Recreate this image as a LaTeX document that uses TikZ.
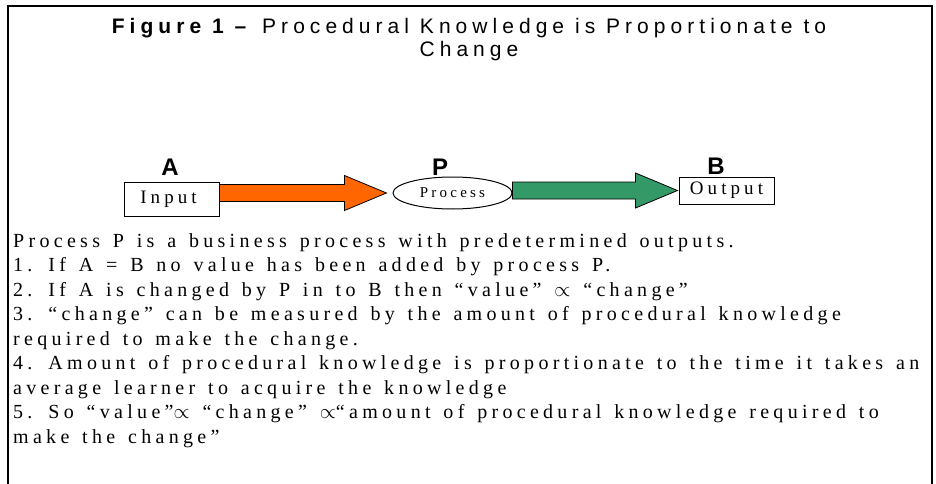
\documentclass[tikz,border=0pt]{standalone}
\usepackage{fontspec}
\usepackage{tikz}
\usetikzlibrary{shapes.geometric,calc}

\newfontfamily\bodyfont[LetterSpace=21.5,WordSpace=1.38]{Liberation Serif}
\newfontfamily\headfont[LetterSpace=24]{Liberation Sans}
\newfontfamily\labelfont{Liberation Sans}
\definecolor{arroworange}{RGB}{255,102,0}
\definecolor{arrowgreen}{RGB}{51,153,102}

% block arrow from the east side of #1 to the west side of #2
\newcommand{\fatarrow}[4]{%
  \draw[line width=0.8pt, fill=#3] let \p1=(#1.east), \p2=(#2.west) in
    (\x1,\y2+8.5pt) -- (\x2-#4-42pt,\y2+8.5pt) -- (\x2-#4-42pt,\y2+17.5pt)
    -- (\x2-#4,\y2) -- (\x2-#4-42pt,\y2-17.5pt) -- (\x2-#4-42pt,\y2-8.5pt)
    -- (\x1,\y2-8.5pt) -- cycle;}

\begin{document}
\begin{tikzpicture}[
    x=1pt,y=-1pt,
    box/.style={draw, line width=1pt, inner sep=0pt, font=\bodyfont\fontsize{19}{21}\selectfont},
    lbl/.style={font=\labelfont\bfseries\fontsize{24}{26}\selectfont, anchor=base, inner sep=0pt},
    bodytext/.style={font=\bodyfont\fontsize{20}{24}\selectfont, anchor=base west, inner sep=0pt}
    ]
    \useasboundingbox (0,0) rectangle (936,484);
    \draw[line width=2pt] (8,484) -- (8,6) -- (932,6) -- (932,484);

    % title
    \node[font=\headfont\fontsize{21}{23}\selectfont, anchor=base, inner sep=0pt] (title) at (469,34)
      {\textbf{Figure 1 –} Procedural Knowledge is Proportionate to};
    \node[font=\headfont\fontsize{21}{23}\selectfont, anchor=base, inner sep=0pt] (title2) at (469,57) {Change};

    % A -> P -> B
    \node[box, minimum width=95pt, minimum height=34pt] (inp) at (171.5,199) {\hspace*{-6pt}Input};
    \node[box, ellipse, minimum width=119pt, minimum height=32pt,
      font=\bodyfont\fontsize{15}{17}\selectfont] (proc) at (452.5,193) {Process};
    \node[box, minimum width=95pt, minimum height=27pt] (outp) at (726.5,190.5) {Output};
    \node[lbl] (lblA) at (170,175) {A};
    \node[lbl] (lblP) at (440,175) {P};
    \node[lbl] (lblB) at (716,174) {B};
    \fatarrow{inp}{proc}{arroworange}{6pt}
    \fatarrow{proc}{outp}{arrowgreen}{1pt}

    % notes
    \foreach \txt [count=\i from 0] in {
      {Process P is a business process with predetermined outputs.},
      {1. If A = B no value has been added by process P.},
      {2. If A is changed by P in to B then “value” $\propto$ “change”},
      {3. “change” can be measured by the amount of procedural knowledge},
      {required to make the change.},
      {4. Amount of procedural knowledge is proportionate to the time it takes an},
      {average learner to acquire the knowledge},
      {5. So “value”$\propto$ “change” $\propto$“amount of procedural knowledge required to},
      {make the change”}}
      \node[bodytext] (line\i) at (13,{247+24.5*\i}) {\txt};
  \end{tikzpicture}
\end{document}
